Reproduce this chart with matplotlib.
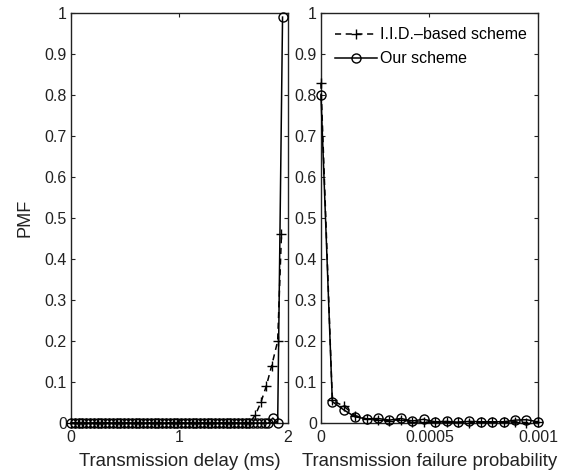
import matplotlib
matplotlib.use("Agg")
import matplotlib.pyplot as plt

plt.rcParams['font.family'] = ['Liberation Sans', 'DejaVu Sans']

# Left panel: transmission delay (ms)
delay_ours_x = [0.000, 0.035, 0.070, 0.105, 0.140, 0.175, 0.210, 0.245, 0.280, 0.315,
                0.350, 0.385, 0.420, 0.455, 0.490, 0.525, 0.560, 0.595, 0.630, 0.665,
                0.700, 0.735, 0.770, 0.805, 0.840, 0.875, 0.910, 0.945, 0.980, 1.015,
                1.050, 1.085, 1.120, 1.155, 1.190, 1.225, 1.260, 1.295, 1.330, 1.365,
                1.400, 1.435, 1.470, 1.505, 1.540, 1.575, 1.610, 1.645, 1.680, 1.715,
                1.750, 1.785, 1.820, 1.860, 1.905, 1.950]
delay_ours_y = [0.0] * 53 + [0.012, 0.0, 0.99]

delay_iid_x = [0.000, 0.035, 0.070, 0.105, 0.140, 0.175, 0.210, 0.245, 0.280, 0.315,
               0.350, 0.385, 0.420, 0.455, 0.490, 0.525, 0.560, 0.595, 0.630, 0.665,
               0.700, 0.735, 0.770, 0.805, 0.840, 0.875, 0.910, 0.945, 0.980, 1.015,
               1.050, 1.085, 1.120, 1.155, 1.190, 1.225, 1.260, 1.295, 1.330, 1.365,
               1.400, 1.435, 1.470, 1.505, 1.540, 1.575, 1.610, 1.645,
               1.700, 1.750, 1.800, 1.850, 1.905, 1.940]
delay_iid_y = [0.0] * 48 + [0.02, 0.05, 0.09, 0.14, 0.20, 0.46]

# Right panel: transmission failure probability
fail_x = [0.0, 0.0000526, 0.0001053, 0.0001579, 0.0002105, 0.0002632, 0.0003158,
          0.0003684, 0.0004211, 0.0004737, 0.0005263, 0.0005789, 0.0006316,
          0.0006842, 0.0007368, 0.0007895, 0.0008421, 0.0008947, 0.0009474, 0.001]
fail_ours_y = [0.80, 0.052, 0.032, 0.015, 0.010, 0.011, 0.007, 0.011, 0.005, 0.009,
               0.003, 0.004, 0.002, 0.004, 0.003, 0.003, 0.003, 0.007, 0.008, 0.003]
fail_iid_y = [0.83, 0.055, 0.041, 0.018, 0.010, 0.008, 0.006, 0.008, 0.003, 0.002,
              0.002, 0.003, 0.002, 0.001, 0.002, 0.002, 0.002, 0.003, 0.001, 0.002]

yticks = [0, 0.1, 0.2, 0.3, 0.4, 0.5, 0.6, 0.7, 0.8, 0.9, 1]
ytick_labels = ['0', '0.1', '0.2', '0.3', '0.4', '0.5', '0.6', '0.7', '0.8', '0.9', '1']

fig = plt.figure(figsize=(5.68, 4.74), dpi=100)
ax1 = fig.add_axes([0.125, 0.1076, 0.382, 0.865])
ax2 = fig.add_axes([0.565, 0.1076, 0.382, 0.865])

fs = 11.5
lw = 1.1
ms = 6.5

ax1.plot(delay_iid_x, delay_iid_y, color='black', linestyle='--', marker='+',
         lw=lw, ms=ms, mew=1.0, dashes=(4, 3), clip_on=False, zorder=3)
ax1.plot(delay_ours_x, delay_ours_y, color='black', linestyle='-', marker='o',
         mfc='none', lw=lw, ms=ms, mew=1.0, clip_on=False, zorder=3)

l1, = ax2.plot(fail_x, fail_iid_y, color='black', linestyle='--', marker='+',
               lw=lw, ms=ms, mew=1.0, dashes=(4, 3), clip_on=False, zorder=3,
               label='I.I.D.\u2013based scheme')
l2, = ax2.plot(fail_x, fail_ours_y, color='black', linestyle='-', marker='o',
               mfc='none', lw=lw, ms=ms, mew=1.0, clip_on=False, zorder=3,
               label='Our scheme')

ax1.set_xlim(0, 2)
ax1.set_xticks([0, 1, 2])
ax1.set_xticklabels(['0', '1', '2'])
ax2.set_xlim(0, 0.001)
ax2.set_xticks([0, 0.0005, 0.001])
ax2.set_xticklabels(['0', '0.0005', '0.001'])

for ax in (ax1, ax2):
    ax.set_ylim(0, 1)
    ax.set_yticks(yticks)
    ax.set_yticklabels(ytick_labels)
    ax.tick_params(direction='in', top=True, right=True, labelsize=fs,
                   length=3, width=0.8, pad=3, colors='#222222')
    ax.tick_params(axis='x', pad=5)
    for s in ax.spines.values():
        s.set_linewidth(1.0)
        s.set_color('#222222')

xfs = 13.4
ax1.set_xlabel('Transmission delay (ms)', fontsize=xfs, color='#222222', labelpad=6)
ax2.set_xlabel('Transmission failure probability', fontsize=xfs, color='#222222', labelpad=6)
ax1.set_ylabel('PMF', fontsize=xfs - 0.3, color='#222222', labelpad=8)

leg = ax2.legend(handles=[l1, l2], loc='upper left', frameon=False, fontsize=fs,
                 handlelength=2.6, handletextpad=0.2, borderaxespad=0.6,
                 labelspacing=0.55, borderpad=0.3)

fig.savefig('out.png', dpi=100)
